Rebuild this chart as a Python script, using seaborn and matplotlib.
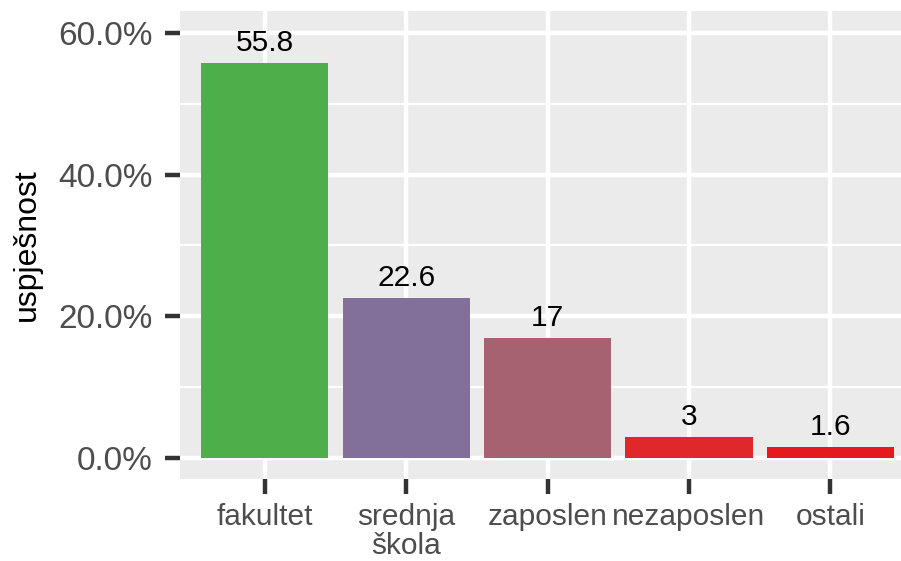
import matplotlib
matplotlib.use("Agg")
import matplotlib.pyplot as plt
import seaborn as sns
import pandas as pd
from matplotlib.ticker import FixedLocator

categories = ["fakultet", "srednja\nškola", "zaposlen", "nezaposlen", "ostali"]
values = [55.8, 22.6, 17, 3, 1.6]
labels = ["55.8", "22.6", "17", "3", "1.6"]
colors = ["#4DAF4A", "#83709A", "#A66270", "#E0282A", "#E41A1C"]
yticks = [0, 20, 40, 60]
yticklabels = ["0.0%", "20.0%", "40.0%", "60.0%"]

sns.set_theme(style="darkgrid")
plt.rcParams["font.family"] = ["Liberation Sans", "DejaVu Sans"]

df = pd.DataFrame({"kat": categories, "val": values})

fig = plt.figure(figsize=(9.01, 5.61), dpi=100)
ax = fig.add_axes([180/901, (561-479)/561, (901-180)/901, (479-11)/561])
ax.set_facecolor("#EBEBEB")

sns.barplot(data=df, x="kat", y="val", hue="kat", palette=colors,
            legend=False, width=0.9, saturation=1, linewidth=0,
            ax=ax, zorder=3)

ax.set_xlim(-0.6, 4.5)
ax.set_ylim(-2.96, 63.1)
ax.yaxis.set_major_locator(FixedLocator(yticks))
ax.set_yticklabels(yticklabels)
ax.yaxis.set_minor_locator(FixedLocator([10, 30, 50]))

ax.grid(which="major", color="white", linewidth=3.2, zorder=0)
ax.grid(which="minor", axis="y", color="white", linewidth=1.6, zorder=0)
ax.set_axisbelow(True)
for s in ax.spines.values():
    s.set_visible(False)

ax.tick_params(axis="both", which="major", bottom=True, left=True,
               length=10.5, width=3.2, color="#333333", labelcolor="#4D4D4D")
ax.tick_params(axis="y", which="major", labelsize=24, pad=9)
ax.tick_params(axis="y", which="minor", length=0, left=False)
ax.tick_params(axis="x", labelsize=21.5, pad=7)
for t in ax.get_xticklabels():
    t.set_linespacing(1.05)

for i, (v, lab) in enumerate(zip(values, labels)):
    ax.annotate(lab, (i, v), xytext=(0, 4), textcoords="offset points",
                ha="center", va="bottom", fontsize=21.5, color="black")

ax.set_xlabel("")
ax.set_ylabel("uspješnost", fontsize=23, color="black", labelpad=12)

fig.savefig("out.png", dpi=100)
